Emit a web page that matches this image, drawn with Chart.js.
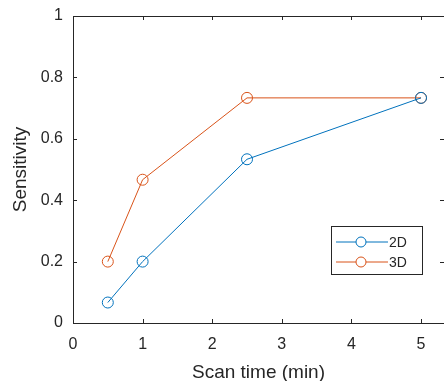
<!DOCTYPE html>
<html>
<head>
<meta charset="utf-8">
<script src="https://cdn.jsdelivr.net/npm/chart.js@4.4.1/dist/chart.umd.min.js"></script>
<style>
  html, body { margin: 0; padding: 0; background: #fff; overflow: hidden; }
  #wrap { width: 444px; height: 381px; position: relative; }
</style>
</head>
<body>
<div id="wrap"><canvas id="chart" width="444" height="381"></canvas></div>
<script>
/* =========================
   DATA
========================= */

const scanTimes = [0.5, 1, 2.5, 5];
const sens2D = [0.0667, 0.2, 0.5333, 0.7333];
const sens3D = [0.2, 0.4667, 0.7333, 0.7333];
const seriesNames = ["2D", "3D"];
const xTicks = [0, 1, 2, 3, 4, 5];
const yTicks = [0, 0.2, 0.4, 0.6, 0.8, 1];

const BLUE = "#0072BD";
const ORANGE = "#D95319";
const FONT = "'Liberation Sans', Arial, sans-serif";
const TEXT = "#262626";

const toPoints = ys => scanTimes.map((x, i) => ({ x, y: ys[i] }));


/* =========================
   PLUGIN (box, inner ticks, legend)
========================= */

const matlabBox = {
  id: "matlabBox",
  afterDraw(chart) {
    const { ctx, chartArea: a, scales } = chart;
    ctx.save();
    ctx.strokeStyle = TEXT;
    ctx.lineWidth = 1;
    ctx.strokeRect(a.left + 0.5, a.top + 0.5, a.right - a.left, a.bottom - a.top);

    // inward ticks on all four sides
    const len = 4;
    ctx.beginPath();
    xTicks.forEach(v => {
      const px = Math.round(scales.x.getPixelForValue(v)) + 0.5;
      ctx.moveTo(px, a.bottom); ctx.lineTo(px, a.bottom - len);
      ctx.moveTo(px, a.top); ctx.lineTo(px, a.top + len);
    });
    yTicks.forEach(v => {
      const py = Math.round(scales.y.getPixelForValue(v)) + 0.5;
      ctx.moveTo(a.left, py); ctx.lineTo(a.left + len, py);
      ctx.moveTo(a.right, py); ctx.lineTo(a.right - len, py);
    });
    ctx.stroke();

    // legend box
    const bx = 331.5, by = 226.5, bw = 91, bh = 48;
    ctx.fillStyle = "#fff";
    ctx.fillRect(bx, by, bw, bh);
    ctx.strokeStyle = TEXT;
    ctx.strokeRect(bx, by, bw, bh);
    chart.data.datasets.forEach((ds, i) => {
      const cy = 242 + i * 20;
      ctx.strokeStyle = ds.borderColor;
      ctx.lineWidth = 1;
      ctx.beginPath();
      ctx.moveTo(336, cy); ctx.lineTo(388, cy);
      ctx.stroke();
      ctx.fillStyle = "#fff";
      ctx.beginPath();
      ctx.arc(361, cy, 5, 0, Math.PI * 2);
      ctx.fill();
      ctx.stroke();
      ctx.fillStyle = TEXT;
      ctx.font = "14px " + FONT;
      ctx.textBaseline = "middle";
      ctx.textAlign = "left";
      ctx.fillText(ds.label, 389, cy + 1);
    });
    ctx.restore();
  }
};


/* =========================
   CHART
========================= */

new Chart(document.getElementById("chart"), {
  type: "scatter",
  data: {
    datasets: [
      {
        label: seriesNames[0],
        data: toPoints(sens2D),
        showLine: true,
        borderColor: BLUE,
        backgroundColor: "rgba(0,0,0,0)",
        borderWidth: 1,
        pointRadius: 5.5,
        pointBorderWidth: 1,
        tension: 0
      },
      {
        label: seriesNames[1],
        data: toPoints(sens3D),
        showLine: true,
        borderColor: ORANGE,
        backgroundColor: "rgba(0,0,0,0)",
        borderWidth: 1,
        pointRadius: 5.5,
        pointBorderWidth: 1,
        tension: 0
      }
    ]
  },
  options: {
    responsive: false,
    animation: false,
    layout: { autoPadding: false, padding: { top: 16, right: 0, left: 0, bottom: 0 } },
    plugins: { legend: { display: false }, tooltip: { enabled: false } },
    scales: {
      x: {
        type: "linear",
        min: 0,
        max: 5.33,
        afterBuildTicks: s => { s.ticks = xTicks.map(v => ({ value: v })); },
        afterFit: s => { s.height = 58; s.paddingLeft = 0; s.paddingRight = 0; },
        grid: { display: false, drawTicks: false },
        border: { display: false },
        ticks: {
          color: TEXT,
          padding: 12,
          font: { family: FONT, size: 16 }
        },
        title: {
          display: true,
          text: "Scan time (min)",
          color: TEXT,
          padding: { top: 0, bottom: -3 },
          font: { family: FONT, size: 19 }
        }
      },
      y: {
        type: "linear",
        min: 0,
        max: 1,
        afterBuildTicks: s => { s.ticks = yTicks.map(v => ({ value: v })); },
        afterFit: s => { s.width = 73; s.paddingTop = 0; s.paddingBottom = 0; },
        grid: { display: false, drawTicks: false },
        border: { display: false },
        ticks: {
          color: TEXT,
          padding: 10,
          font: { family: FONT, size: 16 },
          callback: v => String(v)
        },
        title: {
          display: true,
          text: "Sensitivity",
          color: TEXT,
          padding: { top: 9, bottom: 0 },
          font: { family: FONT, size: 19 }
        }
      }
    }
  },
  plugins: [matlabBox]
});
</script>
</body>
</html>
